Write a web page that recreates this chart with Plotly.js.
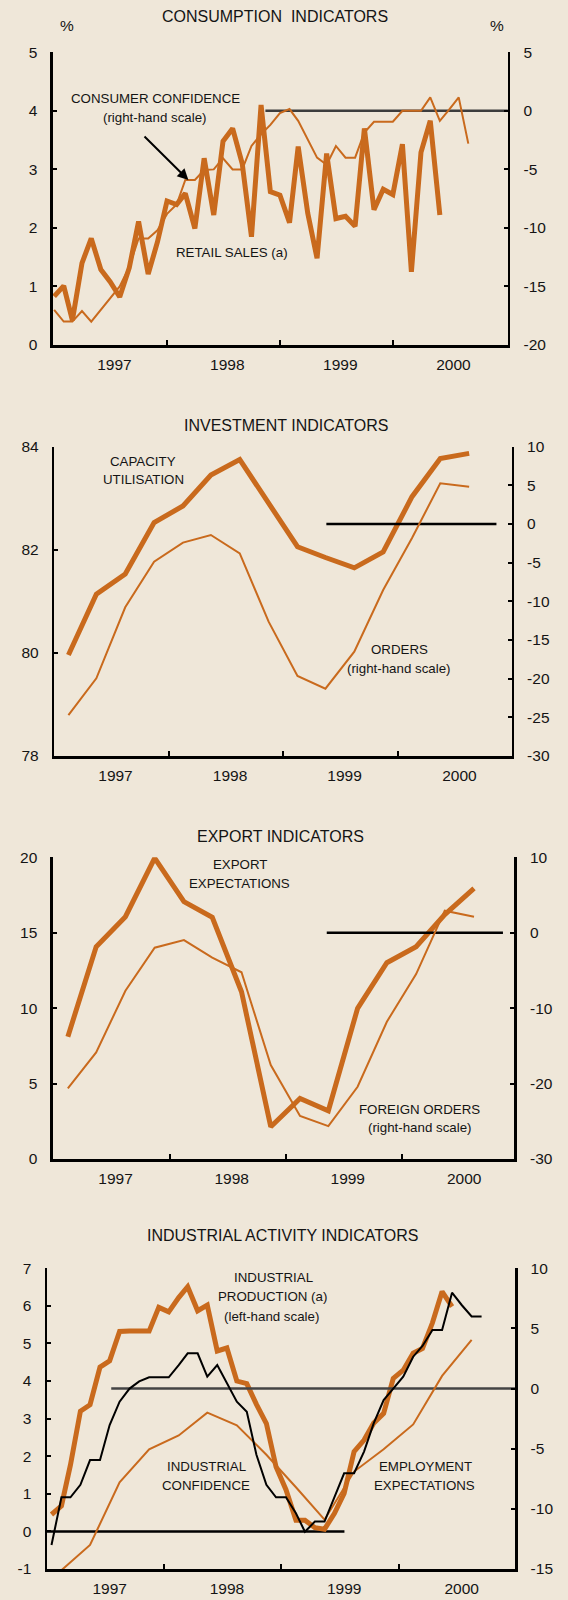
<!DOCTYPE html>
<html><head><meta charset="utf-8">
<script src="https://cdn.plot.ly/plotly-3.0.1.min.js"></script>
<style>html,body{margin:0;padding:0;background:#efe7d9;} #chart{width:568px;height:1600px;}</style>
</head><body><div id="chart"></div>
<script>
// ---------- DATA ----------
const months = ['1997-01','1997-02','1997-03','1997-04','1997-05','1997-06','1997-07','1997-08','1997-09','1997-10','1997-11','1997-12',
  '1998-01','1998-02','1998-03','1998-04','1998-05','1998-06','1998-07','1998-08','1998-09','1998-10','1998-11','1998-12',
  '1999-01','1999-02','1999-03','1999-04','1999-05','1999-06','1999-07','1999-08','1999-09','1999-10','1999-11','1999-12',
  '2000-01','2000-02','2000-03','2000-04','2000-05','2000-06','2000-07','2000-08','2000-09'];
const quarters = ['1997-02-15','1997-05-15','1997-08-15','1997-11-15','1998-02-15','1998-05-15','1998-08-15','1998-11-15',
  '1999-02-15','1999-05-15','1999-08-15','1999-11-15','2000-02-15','2000-05-15','2000-08-15'];
const yearLabels = ['1997','1998','1999','2000'];
const yearLabelPos = ['1997-07-15','1998-07-15','1999-07-15','2000-07-15'];
const yearBounds = ['1998-01-01','1999-01-01','2000-01-01'];

// Consumption
const retailSales = [0.83,1.01,0.42,1.40,1.82,1.29,1.08,0.82,1.32,2.11,1.21,1.76,2.46,2.40,2.59,1.99,3.19,2.22,3.48,3.70,3.10,1.85,
  4.10,2.62,2.56,2.09,3.39,2.25,1.48,3.27,2.16,2.20,2.03,3.70,2.31,2.66,2.57,3.43,1.25,3.29,3.83,2.22];
const consumerConfidence = [-17.0,-18.0,-18.0,-17.1,-18.0,-17.0,-16.0,-15.0,-13.3,-10.9,-10.9,-10.2,-8.8,-8.0,-5.9,-5.9,-5.05,-5.0,
  -4.06,-5.0,-5.0,-3.0,-2.0,-1.2,-0.2,0.15,-0.85,-2.5,-4.0,-4.6,-3.0,-4.0,-4.0,-1.85,-0.93,-0.93,-0.93,0.0,0.0,0.0,1.15,-0.85,0.1,1.15,-2.8];
const consZeroX = ['1998-11-15','2001-01-07'];
const consLeftTicks = [0,1,2,3,4,5];
const consRightTicks = [-20,-15,-10,-5,0,5];

// Investment
const capacityUtilisation = [79.96,81.14,81.53,82.53,82.85,83.45,83.75,82.9,82.06,81.85,81.65,81.96,83.03,83.77,83.87];
const orders = [-24.7,-19.95,-10.77,-4.87,-2.41,-1.42,-3.79,-12.63,-19.65,-21.3,-16.5,-8.53,-1.8,5.26,4.83];
const invZeroX = ['1999-05-18','2000-11-10'];
const invLeftTicks = [78,80,82,84];
const invRightTicks = [-30,-25,-20,-15,-10,-5,0,5,10];

// Export
const exportExpectations = [8.11,14.07,16.06,19.95,17.06,16.02,11.09,2.14,4.02,3.2,9.99,13.01,14.07,16.2,17.94];
const foreignOrders = [-20.64,-15.87,-7.69,-1.99,-0.97,-3.31,-5.25,-17.55,-24.3,-25.64,-20.42,-11.8,-5.48,2.92,2.12];
const expZeroX = ['1999-05-10','2000-11-14'];
const expLeftTicks = [0,5,10,15,20];
const expRightTicks = [-30,-20,-10,0,10];

// Industrial activity
const industrialProduction = [0.45,0.68,1.77,3.20,3.37,4.37,4.54,5.32,5.33,5.33,5.33,5.96,5.84,6.22,6.51,5.87,6.02,4.80,4.88,4.00,3.93,
  3.38,2.87,1.72,1.11,0.30,0.30,0.10,0.06,0.48,1.01,2.12,2.43,2.88,3.14,4.07,4.29,4.74,4.87,5.55,6.38,5.98];
const industrialConfidence = [-13.0,-9.04,-9.04,-8.0,-5.94,-5.94,-3.03,-1.09,0.0,0.6,0.94,0.94,0.94,1.96,2.93,2.93,0.99,1.96,0.4,-1.09,
  -1.92,-5.5,-8.0,-9.04,-9.04,-10.37,-11.9,-11.06,-11.06,-8.98,-7.04,-7.04,-5.24,-2.89,-0.95,0.0,0.99,2.65,3.54,4.87,4.87,7.97,6.95,6.0,6.0];
const employmentExpectations = [-15.1,-13.0,-7.8,-5.05,-3.9,-2.0,-3.05,-5.5,-8.2,-10.9,-6.9,-5.05,-2.98,1.05,4.04];
const indLeftZeroX = ['1997-01-01','1999-07-16'];
const indRightZeroX = ['1997-07-20','2000-12-28'];
const indLeftTicks = [-1,0,1,2,3,4,5,6,7];
const indRightTicks = [-15,-10,-5,0,5,10];

// ---------- STYLE ----------
const W = 568, H = 1600;
const BG = '#efe7d9', OR = '#c96a1d', TXT = '#141414';
const FONT = 'Arial, "Liberation Sans", sans-serif';
const px = x => x / W, py = y => 1 - y / H;

// main x axis: boundary ticks only
function xax(l, r, range, anchor) {
  return {domain:[px(l), px(r)], range:range, type:'date', anchor:anchor,
    showline:true, linecolor:'#000', linewidth:2.5, showgrid:false, zeroline:false,
    tickmode:'array', tickvals:yearBounds, ticktext:yearBounds.map(() => ''),
    ticks:'inside', ticklen:5, tickwidth:2, tickcolor:'#000', fixedrange:true};
}
// overlay x axis: year labels only
function xlab(range, anchor, over) {
  return {range:range, type:'date', anchor:anchor, overlaying:over, side:'bottom',
    showline:false, showgrid:false, zeroline:false,
    tickmode:'array', tickvals:yearLabelPos, ticktext:yearLabels, ticks:'',
    tickfont:{size:15.5, color:TXT, family:FONT}, ticklabelstandoff:8, fixedrange:true};
}
function yax(top, bottom, range, ticks, anchor, side, overlaying) {
  const a = {range:range, tickmode:'array', tickvals:ticks, ticktext:ticks.map(String), anchor:anchor, side:side,
    showline:true, linecolor:'#000', linewidth:2.5, showgrid:false, zeroline:false,
    ticks:'inside', ticklen:4, tickwidth:2, tickcolor:'#000',
    tickfont:{size:15.5, color:TXT, family:FONT}, ticklabelstandoff:10, fixedrange:true};
  if (overlaying) a.overlaying = overlaying; else a.domain = [py(bottom), py(top)];
  return a;
}
function line(x, y, xa, ya, color, width) {
  return {x:x, y:y, xaxis:xa, yaxis:ya, type:'scatter', mode:'lines', line:{color:color, width:width}, hoverinfo:'skip', showlegend:false};
}
function holder(xa, ya) {
  return {x:[], y:[], xaxis:xa, yaxis:ya, type:'scatter', mode:'lines', hoverinfo:'skip', showlegend:false};
}
function ann(text, x, y, size) {
  return {text:text, x:px(x), y:py(y), xref:'paper', yref:'paper', showarrow:false, xanchor:'center', yanchor:'middle',
    font:{size:size||13.3, color:TXT, family:FONT}};
}

const pm = months.map(m => m + '-15');

const data = [
  // panel 1
  line(consZeroX, [0,0], 'x', 'y2', '#3d3d3d', 2.5),
  line(months.slice(0, retailSales.length), retailSales, 'x', 'y', OR, 5),
  line(months.slice(0, consumerConfidence.length), consumerConfidence, 'x', 'y2', OR, 2),
  // panel 2
  line(invZeroX, [0,0], 'x2', 'y4', '#000', 2.5),
  line(quarters, capacityUtilisation, 'x2', 'y3', OR, 5),
  line(quarters, orders, 'x2', 'y4', OR, 2),
  // panel 3
  line(expZeroX, [0,0], 'x3', 'y6', '#000', 2.5),
  line(quarters, exportExpectations, 'x3', 'y5', OR, 5),
  line(quarters, foreignOrders, 'x3', 'y6', OR, 2),
  // panel 4
  line(indLeftZeroX, [0,0], 'x4', 'y7', '#000', 2.5),
  line(pm.slice(0, industrialProduction.length), industrialProduction, 'x4', 'y7', OR, 5),
  line(indRightZeroX, [0,0], 'x4', 'y8', '#444', 2.5),
  line(quarters, employmentExpectations, 'x4', 'y8', OR, 2),
  line(pm.slice(0, industrialConfidence.length), industrialConfidence, 'x4', 'y8', '#000', 2),
  // label-axis holders
  holder('x5', 'y'), holder('x6', 'y3'), holder('x7', 'y5'), holder('x8', 'y7')
];

const r1 = ['1996-12-28','2001-01-07'], r2 = ['1997-01-01','2000-12-28'], r3 = ['1996-12-30','2000-12-20'], r4 = ['1997-01-01','2000-12-28'];

const layout = {
  width:W, height:H, margin:{l:0, r:0, t:0, b:0},
  paper_bgcolor:BG, plot_bgcolor:'rgba(0,0,0,0)', showlegend:false, font:{family:FONT, color:TXT},
  xaxis:  xax(52.9, 507.9, r1, 'y'),
  yaxis:  yax(52.3, 345, [0,5], consLeftTicks, 'x', 'left'),
  yaxis2: yax(52.3, 345, [-20,5], consRightTicks, 'x', 'right', 'y'),
  xaxis2: xax(54.3, 511.5, r2, 'y3'),
  yaxis3: yax(446.7, 756, [78,84], invLeftTicks, 'x2', 'left'),
  yaxis4: yax(446.7, 756, [-30,10], invRightTicks, 'x2', 'right', 'y3'),
  xaxis3: xax(52.9, 514.4, r3, 'y5'),
  yaxis5: yax(857.3, 1159, [0,20], expLeftTicks, 'x3', 'left'),
  yaxis6: yax(857.3, 1159, [-30,10], expRightTicks, 'x3', 'right', 'y5'),
  xaxis4: xax(47, 515, r4, 'y7'),
  yaxis7: yax(1268.3, 1569, [-1,7], indLeftTicks, 'x4', 'left'),
  yaxis8: yax(1268.3, 1569, [-15,10], indRightTicks, 'x4', 'right', 'y7'),
  xaxis5: xlab(r1, 'y', 'x'),
  xaxis6: xlab(r2, 'y3', 'x2'),
  xaxis7: xlab(r3, 'y5', 'x3'),
  xaxis8: xlab(r4, 'y7', 'x4'),
  annotations: [
    ann('CONSUMPTION\u00a0 INDICATORS', 275, 17, 16),
    ann('%', 67, 26, 15.5), ann('%', 497, 26, 15.5),
    ann('CONSUMER CONFIDENCE', 155.7, 98.3), ann('(right-hand scale)', 154, 117.3),
    ann('RETAIL SALES (a)', 231.8, 252.3),
    {text:'', x:px(188.4), y:py(180), xref:'paper', yref:'paper', showarrow:true, ax:-45.4, ay:-45,
      arrowhead:2, arrowsize:1.1, arrowwidth:2, arrowcolor:'#000', standoff:0},
    ann('INVESTMENT INDICATORS', 286, 425, 16),
    ann('CAPACITY', 143, 461.7), ann('UTILISATION', 143.8, 479.3),
    ann('ORDERS', 399.6, 649.3), ann('(right-hand scale)', 398.5, 668.3),
    ann('EXPORT INDICATORS', 280.7, 836, 16),
    ann('EXPORT', 240.2, 864.3), ann('EXPECTATIONS', 239, 883.3),
    ann('FOREIGN ORDERS', 419.5, 1109), ann('(right-hand scale)', 419.5, 1127.3),
    ann('INDUSTRIAL ACTIVITY INDICATORS', 282.6, 1235, 16),
    ann('INDUSTRIAL', 273.5, 1277.3), ann('PRODUCTION (a)', 272.5, 1296.7), ann('(left-hand scale)', 271, 1316),
    ann('INDUSTRIAL', 206.5, 1466.7), ann('CONFIDENCE', 205.8, 1485),
    ann('EMPLOYMENT', 425.7, 1466.7), ann('EXPECTATIONS', 424.6, 1485)
  ]
};

Plotly.newPlot('chart', data, layout, {staticPlot:true, displayModeBar:false});
</script>
</body></html>
